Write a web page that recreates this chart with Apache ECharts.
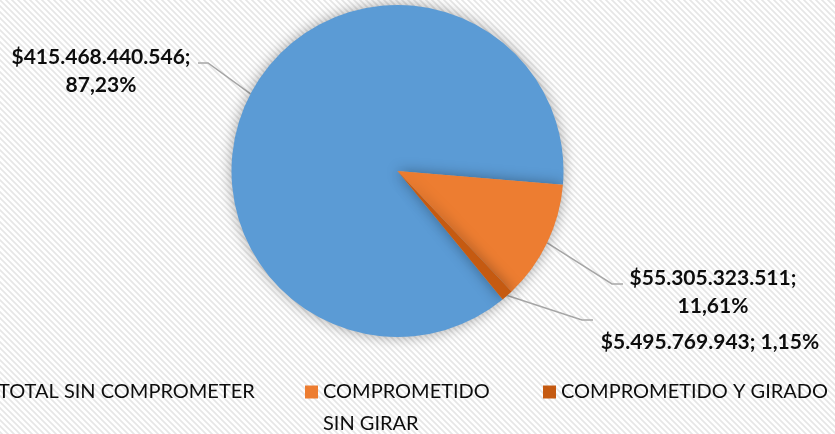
<!DOCTYPE html>
<html>
<head>
<meta charset="utf-8">
<script src="https://cdn.jsdelivr.net/npm/echarts@6/dist/echarts.min.js"></script>
<style>
html,body{margin:0;padding:0;background:#fff;}
#chart{width:835px;height:434px;}
</style>
</head>
<body>
<div id="chart"></div>
<script>
// ---- data ----
const categories = ['TOTAL SIN COMPROMETER', 'COMPROMETIDO SIN GIRAR', 'COMPROMETIDO Y GIRADO'];
const values = [415468440546, 55305323511, 5495769943];
const colors = ['#5B9BD5', '#ED7D31', '#C55A11'];

// ---- layout (pixels) ----
const labelPos = [[101, 71], [713, 292], [710, 342]];
const labelLineMid = [[[208, 63], [198, 63]], [[612, 284], [623, 284]], [[582, 320], [593, 320]]];
const labelSep = [';\n', ';\n', '; '];

const total = values.reduce((a, b) => a + b, 0);

function fmtMoney(v) {
  return '$' + String(v).replace(/\B(?=(\d{3})+(?!\d))/g, '.');
}
function fmtPct(v) {
  return (v / total * 100).toFixed(2).replace('.', ',') + '%';
}

// striped background pattern
const tile = document.createElement('canvas');
tile.width = 6; tile.height = 6;
const tctx = tile.getContext('2d');
tctx.fillStyle = '#ffffff';
tctx.fillRect(0, 0, 6, 6);
tctx.strokeStyle = '#e6e6e6';
tctx.lineWidth = 1.6;
tctx.beginPath();
tctx.moveTo(-1, -1); tctx.lineTo(7, 7);
tctx.moveTo(-1, 5); tctx.lineTo(1, 7);
tctx.moveTo(5, -1); tctx.lineTo(7, 1);
tctx.stroke();

const chart = echarts.init(document.getElementById('chart'), null, {renderer: 'canvas'});

const legendText = {fontFamily: 'Lato', fontSize: 20, color: '#0d0d0d', lineHeight: 32};

const option = {
  animation: false,
  backgroundColor: '#ffffff',
  graphic: [{
    type: 'rect', z: -100, silent: true,
    shape: {x: 0, y: 0, width: 835, height: 434},
    style: {fill: {image: tile, repeat: 'repeat'}}
  }],
  color: colors,
  legend: [
    {data: [categories[0]], left: -20, top: 376, padding: 0, icon: 'rect', itemWidth: 13, itemHeight: 13,
     textStyle: legendText},
    {data: [categories[1]], left: 305, top: 344, padding: 0, icon: 'rect', itemWidth: 13, itemHeight: 13,
     formatter: n => ' \n' + n.replace(' SIN', '\nSIN'),
     textStyle: legendText},
    {data: [categories[2]], left: 543, top: 376, padding: 0, icon: 'rect', itemWidth: 13, itemHeight: 13,
     textStyle: legendText}
  ],
  series: [{
    type: 'pie',
    center: [397.5, 171],
    radius: 166,
    startAngle: -50.7,
    clockwise: true,
    avoidLabelOverlap: false,
    data: categories.map((c, i) => ({name: c, value: values[i]})),
    itemStyle: {shadowBlur: 14, shadowColor: 'rgba(0,0,0,0.35)'},
    label: {
      show: true,
      position: 'outside',
      fontFamily: 'Lato',
      fontWeight: 'bold',
      fontSize: 21,
      lineHeight: 28,
      color: '#0d0d0d',
      align: 'center',
      formatter: p => fmtMoney(p.value) + labelSep[p.dataIndex] + fmtPct(p.value)
    },
    labelLine: {show: true, lineStyle: {color: '#a6a6a6', width: 1.5}},
    labelLayout: function (params) {
      const i = params.dataIndex;
      const pts = params.labelLinePoints;
      return {
        x: labelPos[i][0], y: labelPos[i][1],
        align: 'center', verticalAlign: 'middle',
        labelLinePoints: [pts[0], labelLineMid[i][0], labelLineMid[i][1]]
      };
    }
  }]
};
chart.setOption(option);
</script>
</body>
</html>
